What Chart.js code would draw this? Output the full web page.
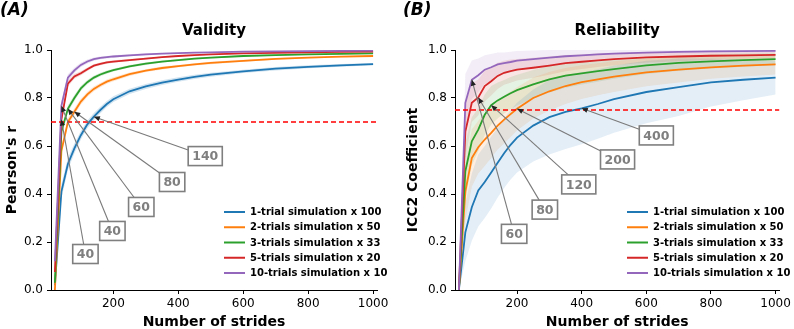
<!DOCTYPE html>
<html><head><meta charset="utf-8">
<script src="https://cdn.jsdelivr.net/npm/chart.js@4.4.1/dist/chart.umd.min.js"></script>
<style>
html,body{margin:0;padding:0;background:#fff;}
#wrap{position:relative;width:794px;height:329px;overflow:hidden;background:#fff;}
canvas{position:absolute;top:0;}
</style></head><body>
<div id="wrap">
<canvas id="c1" width="397" height="329" style="left:0px"></canvas>
<canvas id="c2" width="394" height="329" style="left:400px"></canvas>
</div>
<script>
// ---------- DATA ----------
const strides = [20,40,60,80,100,120,140,160,180,200,250,300,350,400,450,500,600,700,800,900,1000];
const xTickValues = [200,400,600,800,1000];
const yTickValues = [0,0.2,0.4,0.6,0.8,1.0];
const seriesLabels = ['1-trial simulation x 100','2-trials simulation x 50','3-trials simulation x 33','5-trials simulation x 20','10-trials simulation x 10'];

// Validity (Pearson's r)
const validity1  = [0.02,0.41,0.525,0.59,0.645,0.69,0.722,0.75,0.775,0.795,0.828,0.848,0.864,0.877,0.888,0.897,0.911,0.922,0.93,0.936,0.941];
const validity2  = [0.0,0.58,0.70,0.743,0.785,0.815,0.838,0.854,0.868,0.878,0.899,0.914,0.925,0.933,0.94,0.946,0.955,0.963,0.968,0.972,0.975];
const validity3  = [0.03,0.66,0.755,0.80,0.84,0.866,0.885,0.898,0.908,0.916,0.932,0.943,0.952,0.958,0.964,0.968,0.975,0.979,0.982,0.984,0.986];
const validity5  = [0.075,0.71,0.86,0.89,0.903,0.92,0.935,0.942,0.948,0.952,0.958,0.964,0.97,0.975,0.979,0.982,0.986,0.988,0.99,0.992,0.993];
const validity10 = [0.12,0.767,0.885,0.915,0.938,0.952,0.962,0.967,0.97,0.973,0.978,0.982,0.985,0.987,0.989,0.99,0.993,0.994,0.995,0.996,0.997];
const validitySd1  = [0.02,0.03,0.025,0.02,0.018,0.016,0.015,0.014,0.013,0.012,0.011,0.01,0.01,0.009,0.009,0.008,0.007,0.007,0.006,0.006,0.005];
const validitySd2  = [0.02,0.02,0.016,0.014,0.012,0.011,0.01,0.009,0.009,0.008,0.007,0.006,0.006,0.005,0.005,0.005,0.004,0.004,0.003,0.003,0.003];
const validitySd3  = [0.02,0.018,0.014,0.012,0.01,0.009,0.008,0.007,0.007,0.006,0.005,0.005,0.004,0.004,0.004,0.003,0.003,0.003,0.002,0.002,0.002];
const validitySd5  = [0.02,0.016,0.012,0.01,0.008,0.007,0.006,0.006,0.005,0.005,0.004,0.004,0.003,0.003,0.003,0.002,0.002,0.002,0.002,0.002,0.002];
const validitySd10 = [0.02,0.02,0.014,0.011,0.009,0.008,0.007,0.006,0.005,0.005,0.004,0.004,0.003,0.003,0.003,0.002,0.002,0.002,0.002,0.002,0.002];
const validityThreshold = 0.7;

// Reliability (ICC2)
const reliability1  = [0,0.24,0.345,0.415,0.45,0.49,0.53,0.57,0.605,0.635,0.685,0.72,0.742,0.757,0.775,0.795,0.825,0.845,0.865,0.876,0.885];
const reliability2  = [0,0.41,0.55,0.595,0.627,0.655,0.685,0.71,0.733,0.755,0.8,0.828,0.85,0.866,0.878,0.889,0.907,0.918,0.928,0.935,0.94];
const reliability3  = [0,0.495,0.62,0.668,0.73,0.77,0.79,0.805,0.82,0.833,0.857,0.878,0.893,0.903,0.912,0.92,0.936,0.946,0.953,0.958,0.962];
const reliability5  = [0,0.66,0.78,0.802,0.85,0.87,0.892,0.905,0.912,0.918,0.926,0.935,0.945,0.951,0.957,0.962,0.969,0.973,0.976,0.978,0.98];
const reliability10 = [0,0.78,0.876,0.895,0.918,0.928,0.94,0.945,0.95,0.956,0.962,0.968,0.974,0.978,0.982,0.985,0.989,0.992,0.994,0.995,0.996];
const reliabilitySd1  = [0,0.12,0.14,0.15,0.15,0.15,0.145,0.145,0.145,0.145,0.15,0.155,0.155,0.15,0.145,0.14,0.13,0.12,0.1,0.085,0.07];
const reliabilitySd2  = [0,0.12,0.12,0.11,0.11,0.105,0.1,0.1,0.095,0.09,0.085,0.08,0.075,0.07,0.067,0.064,0.058,0.053,0.048,0.045,0.042];
const reliabilitySd3  = [0,0.12,0.1,0.09,0.085,0.08,0.075,0.07,0.067,0.064,0.06,0.055,0.05,0.047,0.044,0.04,0.036,0.032,0.03,0.028,0.026];
const reliabilitySd5  = [0,0.12,0.08,0.075,0.065,0.06,0.055,0.05,0.048,0.045,0.042,0.038,0.034,0.03,0.028,0.026,0.022,0.02,0.018,0.016,0.015];
const reliabilitySd10 = [0,0.12,0.08,0.07,0.06,0.055,0.05,0.045,0.043,0.04,0.036,0.032,0.027,0.024,0.02,0.018,0.015,0.012,0.01,0.009,0.008];
const reliabilityThreshold = 0.75;

// annotated points: series index, stride, label
const validityMarks = [
  {s:3, x:40,  label:'40'},
  {s:4, x:40,  label:'40'},
  {s:2, x:60,  label:'60'},
  {s:1, x:80,  label:'80'},
  {s:0, x:140, label:'140'}
];
const reliabilityMarks = [
  {s:4, x:60,  label:'60'},
  {s:3, x:80,  label:'80'},
  {s:2, x:120, label:'120'},
  {s:1, x:200, label:'200'},
  {s:0, x:400, label:'400'}
];

// ---------- LAYOUT / STYLE ----------
const colors = ['#1f77b4','#ff7f0e','#2ca02c','#d62728','#9467bd'];
const FONT = '"DejaVu Sans", sans-serif';
const X_MIN = 8, X_MAX = 1012;
// label box centres (in data coordinates)
const validityBoxPos = [[114,0.15],[197,0.246],[286,0.346],[381,0.45],[483,0.558]];
const reliabilityBoxPos = [[191,0.234],[286,0.335],[391,0.44],[511,0.544],[631,0.644]];

function rgba(hex,a){const n=parseInt(hex.slice(1),16);return `rgba(${n>>16},${(n>>8)&255},${n&255},${a})`;}

function buildDatasets(series, sds, alpha, thr){
  const ds=[];
  series.forEach((vals,k)=>{
    ds.push({data: vals.map((v,i)=>({x:strides[i], y:Math.min(1, v+sds[k][i])})), fill:'+1',
      backgroundColor: rgba(colors[k],alpha), borderWidth:0, pointRadius:0, order:20+k, tension:0});
    ds.push({data: vals.map((v,i)=>({x:strides[i], y:v-sds[k][i]})), fill:false,
      borderWidth:0, pointRadius:0, order:20+k, tension:0, borderColor:'rgba(0,0,0,0)'});
  });
  series.forEach((vals,k)=>{
    ds.push({label: seriesLabels[k], data: vals.map((v,i)=>({x:strides[i], y:v})), borderColor: colors[k],
      borderWidth:1.8, pointRadius:0, fill:false, tension:0, order:10-k});
  });
  ds.push({data:[{x:X_MIN,y:thr},{x:X_MAX,y:thr}], borderColor:'#ff0000', borderWidth:1.3, borderDash:[5,3],
    pointRadius:0, fill:false, order:0});
  return ds;
}

function overlayPlugin(o){
  return {
    id:'overlay'+o.letter,
    afterDatasetsDraw(chart){
      const {ctx, scales:{x,y}} = chart;
      ctx.save();
      const pts = o.marks.map((m,j)=>{
        const i = strides.indexOf(m.x);
        return {tx:x.getPixelForValue(m.x), ty:y.getPixelForValue(o.series[m.s][i]),
                bx:x.getPixelForValue(o.boxes[j][0]), by:y.getPixelForValue(o.boxes[j][1]), label:m.label};
      });
      pts.forEach(p=>{
        ctx.strokeStyle='#7a7a7a'; ctx.lineWidth=1.1;
        ctx.beginPath(); ctx.moveTo(p.bx,p.by); ctx.lineTo(p.tx,p.ty); ctx.stroke();
        const a=Math.atan2(p.ty-p.by,p.tx-p.bx), L=6, W=2.6;
        ctx.fillStyle='#222';
        ctx.beginPath(); ctx.moveTo(p.tx,p.ty);
        ctx.lineTo(p.tx-L*Math.cos(a)+W*Math.sin(a), p.ty-L*Math.sin(a)-W*Math.cos(a));
        ctx.lineTo(p.tx-L*Math.cos(a)-W*Math.sin(a), p.ty-L*Math.sin(a)+W*Math.cos(a));
        ctx.closePath(); ctx.fill();
      });
      ctx.font='bold 12.5px '+FONT;
      pts.forEach(p=>{
        const tw=ctx.measureText(p.label).width, bw=tw+8, bh=19;
        ctx.fillStyle='#fff'; ctx.fillRect(p.bx-bw/2,p.by-bh/2,bw,bh);
        ctx.strokeStyle='#7f7f7f'; ctx.lineWidth=1.6; ctx.strokeRect(p.bx-bw/2,p.by-bh/2,bw,bh);
        ctx.fillStyle='#7f7f7f'; ctx.textAlign='center'; ctx.textBaseline='middle';
        ctx.fillText(p.label,p.bx,p.by+1);
      });
      ctx.restore();
    },
    afterDraw(chart){
      const {ctx, chartArea} = chart;
      ctx.save();
      ctx.fillStyle='#000'; ctx.textAlign='center'; ctx.textBaseline='alphabetic';
      ctx.font='bold 15px '+FONT;
      ctx.fillText(o.title,(chartArea.left+chartArea.right)/2,35);
      ctx.textAlign='left'; ctx.font='italic bold 17px '+FONT;
      ctx.fillText(o.letter,o.letterX,15);
      ctx.font='bold 10px '+FONT; ctx.textBaseline='middle';
      seriesLabels.forEach((lab,k)=>{
        const yy=212+k*15.25;
        ctx.strokeStyle=colors[k]; ctx.lineWidth=2;
        ctx.beginPath(); ctx.moveTo(o.legX,yy); ctx.lineTo(o.legX+21,yy); ctx.stroke();
        ctx.fillStyle='#000'; ctx.fillText(lab,o.legX+26,yy+0.5);
      });
      ctx.restore();
    }
  };
}

function makeChart(id, o){
  const tickFont={family:FONT,size:12};
  new Chart(document.getElementById(id),{
    type:'line',
    data:{datasets: buildDatasets(o.series,o.sds,o.alpha,o.thr)},
    options:{
      responsive:false, animation:false, devicePixelRatio:1,
      layout:{padding:{top:50,right:o.padRight,left:0,bottom:0}},
      plugins:{legend:{display:false}, tooltip:{enabled:false}},
      scales:{
        x:{type:'linear', min:X_MIN, max:X_MAX,
          afterBuildTicks:s=>{s.ticks=xTickValues.map(v=>({value:v}));},
          afterFit:s=>{s.height=39;},
          ticks:{font:tickFont,color:'#000',padding:3,maxRotation:0,autoSkip:false,callback:v=>String(v)},
          grid:{display:true,drawOnChartArea:false,drawTicks:true,tickLength:4,color:'#000',lineWidth:1},
          border:{display:true,color:'#000',width:1},
          title:{display:true,text:'Number of strides',color:'#000',font:{family:FONT,size:14,weight:'bold',lineHeight:1},padding:{top:0,bottom:0}}
        },
        y:{type:'linear', min:0, max:1,
          afterBuildTicks:s=>{s.ticks=yTickValues.map(v=>({value:v}));},
          afterFit:s=>{s.width=o.yWidth;},
          ticks:{font:tickFont,color:'#000',padding:4,callback:v=>Number(v).toFixed(1)},
          grid:{display:true,drawOnChartArea:false,drawTicks:true,tickLength:4,color:'#000',lineWidth:1},
          border:{display:true,color:'#000',width:1},
          title:{display:true,text:o.yTitle,color:'#000',font:{family:FONT,size:14,weight:'bold',lineHeight:1},padding:{top:o.yTitlePad,bottom:0}}
        }
      }
    },
    plugins:[overlayPlugin(o)]
  });
}

const vSeries=[validity1,validity2,validity3,validity5,validity10];
const rSeries=[reliability1,reliability2,reliability3,reliability5,reliability10];

makeChart('c1',{series:vSeries, sds:[validitySd1,validitySd2,validitySd3,validitySd5,validitySd10], alpha:0.2,
  thr:validityThreshold, marks:validityMarks, boxes:validityBoxPos, title:'Validity', letter:'(A)', letterX:0,
  legX:224, padRight:20, yWidth:51, yTitle:"Pearson's r", yTitlePad:5});
makeChart('c2',{series:rSeries, sds:[reliabilitySd1,reliabilitySd2,reliabilitySd3,reliabilitySd5,reliabilitySd10], alpha:0.12,
  thr:reliabilityThreshold, marks:reliabilityMarks, boxes:reliabilityBoxPos, title:'Reliability', letter:'(B)', letterX:3,
  legX:227, padRight:13, yWidth:55, yTitle:'ICC2 Coefficient', yTitlePad:6});
</script>
</body></html>
